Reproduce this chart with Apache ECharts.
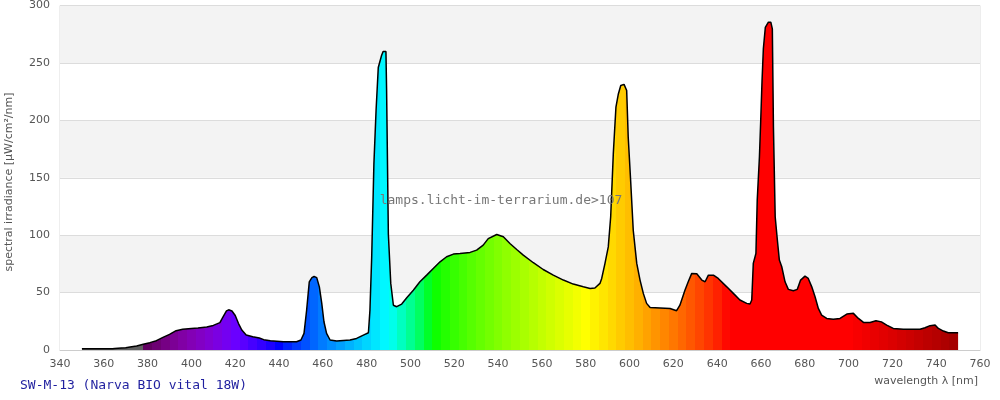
<!DOCTYPE html>
<html>
<head>
<meta charset="utf-8">
<script src="https://cdn.jsdelivr.net/npm/echarts@6/dist/echarts.min.js"></script>
<style>
  html, body { margin: 0; padding: 0; background: #fff; }
  #main { width: 1000px; height: 400px; }
</style>
</head>
<body>
<div id="main"></div>
<script>
// spectrum: wavelength [nm] and irradiance [µW/cm²/nm]
const wavelength = [
  350, 355, 360, 364, 365, 368, 370, 372, 375, 378, 381, 384, 387, 390, 393, 396, 400, 403, 407, 410,
  413, 414.5, 416, 417, 418.5, 420, 421.5, 423, 425, 428, 431, 433, 436, 442, 448, 450,
  451.4, 452.6, 453.8, 455, 456, 457.2, 458.4, 459.5, 460.5, 461.7, 463.3, 466.3, 472.4, 475.4, 478.5, 480.8,
  481.5, 482.3, 483.3, 484.3, 485.3, 486.8, 487.5, 488.8, 489.1, 489.9, 491, 492.2, 493.7, 496, 498.3,
  501.3, 504.3, 507.4, 510.4, 513.5, 516.5, 519.6, 522.6, 527.2, 530.2, 533.2, 535.5, 539.4, 542.4, 545.4,
  548.5, 551.5, 556.1, 560.6, 565.2, 569.8, 574.3, 578.9, 582, 584.2, 586.5, 587.3, 588.8, 590.3, 591.4,
  592.6, 593.8, 594.9, 596, 597.5, 598.7, 599.4, 600.5, 601.7, 603.3, 604.8, 606.3, 607.8, 609.4, 618.5,
  621.5, 623, 625.3, 626.8, 628.4, 630.7, 633, 634.5, 636, 638.3, 640.5, 644.4, 647.4, 650.4, 653.5, 655,
  655.8, 656.5, 657.7, 658.3, 659.3, 659.9, 660.5, 661.1, 662, 663.4, 664.5, 665.2, 665.7, 666.5, 667.5,
  668.4, 669.5, 671, 672.5, 674.8, 676.6, 678.1, 680.1, 681.6, 683.2, 684.7, 686.2, 687.7, 690, 693,
  696.1, 699.2, 702.2, 704.5, 706.8, 709.8, 712.5, 715, 717.4, 720.4, 723.5, 725, 732.6, 734.9, 737.2,
  739.5, 741, 743.3, 745.5, 750
]
const irradiance = [
  1, 1, 1, 1, 1.4, 1.8, 2, 2.6, 3.5, 5, 6.4, 8.1, 11, 13.6, 16.8, 18, 18.8, 19.2, 20, 21.4,
  23.8, 29, 34, 35, 34, 30, 23, 17.4, 13, 11.6, 10.4, 9, 8.1, 7.2, 7.2, 8.7,
  14.5, 34.8, 59.4, 63, 64, 63, 55, 40.6, 24.6, 14.5, 8.7, 7.8, 8.7, 10.1, 13, 15,
  34.8, 81, 162, 209, 246, 256.5, 260, 260, 226, 101, 58, 39, 37.7, 40, 45.5,
  52, 59.4, 65.2, 71, 76.8, 81.2, 83.5, 84, 85, 87, 91.3, 97, 100.6, 98.6, 92.8,
  87.5, 82.6, 76, 70.1, 65.2, 60.9, 57.4, 55, 53.6, 54, 58, 62.3, 75.4, 89.8, 116,
  171, 211.6, 223, 230.4, 231.3, 226, 185.5, 147.8, 104.3, 75.4, 60.9, 49.3, 40.6, 37.1, 36.2,
  34.2, 39, 52, 59.4, 66.7, 66.4, 60.9, 59.4, 65.2, 65.2, 62.3, 55, 49.3, 43.5, 40.6, 40,
  43.5, 75.4, 84, 130.4, 168, 200, 234.8, 262.3, 281, 285.5, 285.5, 279.7, 194, 116, 95.6,
  78.3, 72.5, 59.4, 52.8, 51.6, 52.8, 60.9, 64.3, 62.3, 55, 46.4, 36.2, 30.4, 27.5, 26.7,
  27.5, 31.3, 31.9, 27.5, 24, 24, 25.5, 24.5, 21.7, 18.8, 18.3, 18, 18, 19.4, 21.2,
  21.7, 18.8, 16.5, 15, 15
]
const xTicks = [340, 760, 20]
const yTicks = [0, 300, 50]
const lampTitle = 'SW-M-13 (Narva BIO vital 18W)'
const watermark = 'lamps.licht-im-terrarium.de>107'

// rough wavelength -> rgb (Bruton), grey for UV
const wavelengthColor = (w) => {
  if (w < 378) return '#606060'
  let r = 0, g = 0, b = 0
  if (w < 440) { r = -(w - 440) / 60; b = 1 }
  else if (w < 490) { g = (w - 440) / 50; b = 1 }
  else if (w < 510) { g = 1; b = -(w - 510) / 20 }
  else if (w < 580) { r = (w - 510) / 70; g = 1 }
  else if (w < 645) { r = 1; g = -(w - 645) / 65 }
  else { r = 1 }
  let f = 1
  if (w < 420) f = 0.3 + 0.7 * (w - 380) / 40
  else if (w > 700) f = 0.3 + 0.7 * (780 - w) / 80
  const c = (v) => v <= 0 ? 0 : Math.round(255 * Math.pow(v * f, 0.8))
  return 'rgb(' + c(r) + ',' + c(g) + ',' + c(b) + ')'
}

const pieces = []
for (let w = 350; w < 750; w += 4) {
  const p = {gte: w, color: wavelengthColor(w + 2)}
  if (w + 4 >= 750) p.lte = 760
  else p.lt = w + 4
  pieces.push(p)
}

const seriesData = wavelength.map((w, i) => [w, irradiance[i]])

const chartDom = document.getElementById('main')
const myChart = echarts.init(chartDom)
const option = {
  animation: false,
  grid: {
    left: 60,
    right: 20,
    top: 5,
    bottom: 50,
    show: true,
    borderColor: '#dcdcdc',
    borderWidth: 1
  },
  visualMap: {
    show: false,
    type: 'piecewise',
    dimension: 0,
    seriesIndex: 0,
    pieces: pieces
  },
  xAxis: {
    type: 'value',
    min: xTicks[0],
    max: xTicks[1],
    interval: xTicks[2],
    axisLine: {lineStyle: {color: '#cccccc'}},
    axisTick: {show: false},
    splitLine: {show: false},
    axisLabel: {color: '#555', fontFamily: 'DejaVu Sans', fontSize: 11, margin: 9}
  },
  yAxis: {
    type: 'value',
    min: yTicks[0],
    max: yTicks[1],
    interval: yTicks[2],
    axisLine: {show: false},
    axisTick: {show: false},
    splitLine: {lineStyle: {color: '#dcdcdc'}},
    splitArea: {show: true, areaStyle: {color: ['#ffffff', '#f3f3f3']}},
    axisLabel: {color: '#555', fontFamily: 'DejaVu Sans', fontSize: 11, margin: 10}
  },
  graphic: [
    {
      type: 'text', x: 9, y: 182, rotation: Math.PI / 2,
      style: {text: 'spectral irradiance [µW/cm²/nm]', fill: '#555', font: '11px "DejaVu Sans"', align: 'center', verticalAlign: 'middle'}
    },
    {
      type: 'text', x: 978, y: 381,
      style: {text: 'wavelength λ [nm]', fill: '#555', font: '11px "DejaVu Sans"', align: 'right', verticalAlign: 'middle'}
    },
    {
      type: 'text', x: 20, y: 386,
      style: {text: lampTitle, fill: '#1f1f9f', font: '13px "DejaVu Sans Mono"', align: 'left', verticalAlign: 'middle'}
    },
    {
      type: 'text', x: 501, y: 201, z: 10,
      style: {text: watermark, fill: '#777', font: '13px "DejaVu Sans Mono"', align: 'center', verticalAlign: 'middle'}
    }
  ],
  series: [
    {
      type: 'line',
      data: seriesData,
      showSymbol: false,
      lineStyle: {color: '#000', width: 1.5},
      areaStyle: {opacity: 1},
      z: 3
    }
  ]
}
option && myChart.setOption(option)
</script>
</body>
</html>
